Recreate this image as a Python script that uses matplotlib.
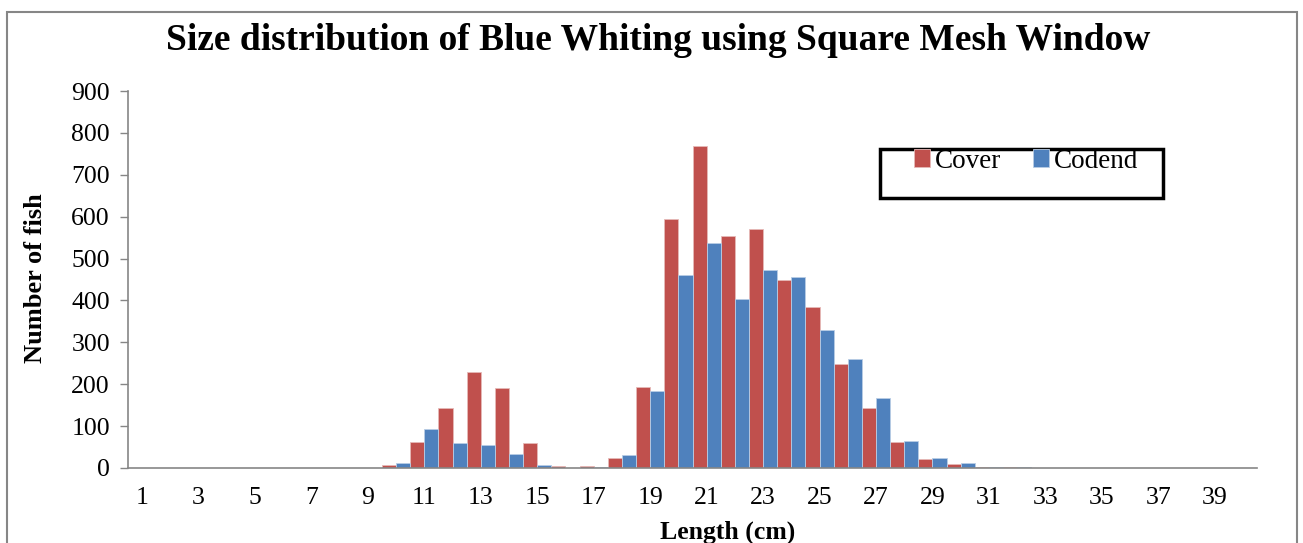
import matplotlib
matplotlib.use("Agg")
import matplotlib.pyplot as plt
from matplotlib.patches import Rectangle
import numpy as np

lengths = list(range(1, 41))
cover = [0, 0, 0, 0, 0, 0, 0, 0, 0, 6, 62, 144, 230, 190, 60, 4, 5, 25, 193, 594,
         769, 555, 571, 450, 385, 249, 144, 61, 21, 9, 3, 2, 0, 0, 0, 0, 0, 0, 0, 0]
codend = [0, 0, 0, 0, 0, 0, 0, 0, 0, 11, 94, 60, 54, 34, 8, 0, 2, 30, 185, 460,
          536, 404, 472, 455, 329, 261, 166, 65, 24, 12, 3, 2, 0, 0, 0, 0, 0, 0, 0, 0]
tick_labels = [str(v) for v in lengths]

plt.rcParams['font.family'] = ['Liberation Serif', 'DejaVu Serif']

W, H = 1303, 543
fig = plt.figure(figsize=(W / 100, H / 100), dpi=100)
ax = fig.add_axes([128 / W, 1 - 468 / H, (1257 - 128) / W, (468 - 91) / H])

red = '#C0504D'
blue = '#4F81BD'
x = np.arange(len(lengths))
bw = 0.5
ax.bar(x - bw / 2, cover, width=bw, color=red, edgecolor='#E6B9B8', linewidth=0.6, label='Cover')
ax.bar(x + bw / 2, codend, width=bw, color=blue, edgecolor='#B9CDE5', linewidth=0.6, label='Codend')

ax.set_xlim(-0.5, len(lengths) - 0.5)
ax.set_ylim(0, 900)
ax.set_yticks(range(0, 901, 100))
ax.set_xticks(x[::2])
ax.set_xticklabels(tick_labels[::2])
ax.tick_params(axis='x', length=0, labelsize=18.5, pad=14)
ax.tick_params(axis='y', length=6, width=1, color='#868686', labelsize=18.5, pad=7)
for s in ['top', 'right']:
    ax.spines[s].set_visible(False)
for s in ['left', 'bottom']:
    ax.spines[s].set_color('#868686')
    ax.spines[s].set_linewidth(1.2)

fig.text(658 / W, 1 - 40 / H, 'Size distribution of Blue Whiting using Square Mesh Window',
         ha='center', va='center', fontsize=27, fontweight='bold')
fig.text(36 / W, 1 - 278 / H, 'Number of fish', rotation=90, ha='center', va='center',
         fontsize=19, fontweight='bold')
fig.text(728 / W, 1 - 532 / H, 'Length (cm)', ha='center', va='center',
         fontsize=18.5, fontweight='bold')

# outer chart border
fig.patches.append(Rectangle((7 / W, -0.05), (1297 - 7) / W, 1.05 - 12 / H,
                             transform=fig.transFigure, fill=False,
                             edgecolor='#868686', linewidth=1.5))

# legend box
fig.patches.append(Rectangle((880 / W, 1 - 198 / H), (1163 - 880) / W, (198 - 149) / H,
                             transform=fig.transFigure, fill=False,
                             edgecolor='black', linewidth=2.5))
fig.legend(loc='center', bbox_to_anchor=(1026 / W, 1 - 161 / H),
           ncol=2, frameon=False, fontsize=19.5, handlelength=0.6, handleheight=0.6,
           handletextpad=0.15, columnspacing=1.2)

fig.savefig('out.png', dpi=100)
